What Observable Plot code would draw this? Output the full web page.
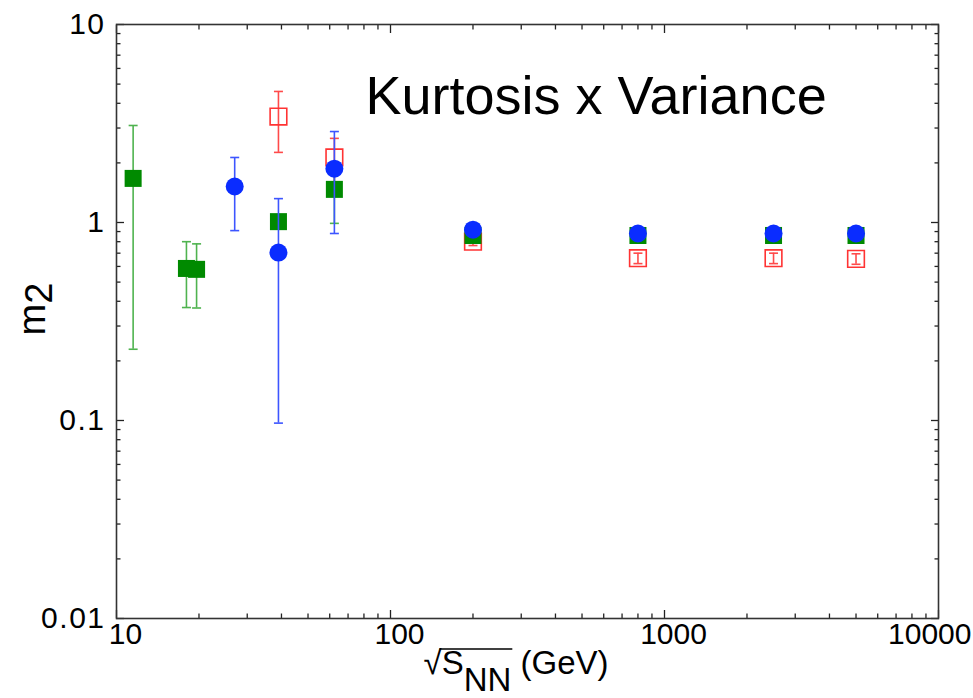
<!DOCTYPE html>
<html>
<head>
<meta charset="utf-8">
<script src="https://cdn.jsdelivr.net/npm/d3@7"></script>
<script src="https://cdn.jsdelivr.net/npm/@observablehq/plot@0.6"></script>
<style>
html, body { margin: 0; padding: 0; background: #fff; overflow: hidden; }
#chart { width: 973px; height: 698px; overflow: hidden; position: relative; }
#chart svg g[aria-label="y-axis tick label"] text { letter-spacing: 1.5px; }
</style>
</head>
<body>
<div id="chart"></div>
<script>
// ---- axis ticks ----
const xTicks = [10, 100, 1000, 10000];
const xTickLabels = ["10", "100", "1000", "10000"];
const yTicks = [0.01, 0.1, 1, 10];
const yTickLabels = ["0.01", "0.1", "1", "10"];
const minorMultipliers = [2, 3, 4, 5, 6, 7, 8, 9];

// ---- series: green filled squares ----
const greenX  = [11.5, 18.0, 19.6, 39, 62.4, 200, 800, 2500, 5000];
const greenY  = [1.67, 0.586, 0.58, 1.01, 1.47, 0.86, 0.86, 0.86, 0.86];
const greenLo = [0.229, 0.372, 0.37, null, 0.99, null, null, null, null];
const greenHi = [3.09, 0.80, 0.78, null, 1.95, null, null, null, null];

// ---- series: blue filled circles ----
const blueX  = [27, 39, 62.4, 200, 800, 2500, 5000];
const blueY  = [1.52, 0.705, 1.87, 0.92, 0.88, 0.88, 0.88];
const blueLo = [0.91, 0.097, 0.88, null, null, null, null];
const blueHi = [2.13, 1.32, 2.88, null, null, null, null];

// ---- series: red open squares ----
const redX  = [39, 62.4, 200, 800, 2500, 5000];
const redY  = [3.43, 2.13, 0.80, 0.66, 0.66, 0.655];
const redLo = [2.26, 1.60, 0.765, 0.62, 0.62, 0.615];
const redHi = [4.59, 2.66, 0.835, 0.70, 0.70, 0.695];

const title = "Kurtosis x Variance";

const greenCol = "#008a00", greenErr = "#4fb34f";
const blueCol = "#0a2cff", blueErr = "#3d55ff";
const redCol = "#ff3333", redErr = "#ff4a4a";
const FONT = "'Liberation Sans', Arial, Helvetica, sans-serif";

const rows = (xs, ys, lo, hi) => xs.map((x, i) => ({x, y: ys[i], lo: lo[i], hi: hi[i]}));
const green = rows(greenX, greenY, greenLo, greenHi);
const blue = rows(blueX, blueY, blueLo, blueHi);
const red = rows(redX, redY, redLo, redHi);

const yMinor = [], xMinor = [];
for (let i = 0; i < yTicks.length - 1; i++) for (const m of minorMultipliers) yMinor.push(+(yTicks[i] * m).toPrecision(4));
for (let i = 0; i < xTicks.length - 1; i++) for (const m of minorMultipliers) xMinor.push(+(xTicks[i] * m).toPrecision(4));

const cap = {draw(ctx) { ctx.moveTo(-4.5, 0); ctx.lineTo(4.5, 0); }};
function errorBars(data, color) {
  const e = data.filter(d => d.lo != null);
  return [
    Plot.ruleX(e, {x: "x", y1: "lo", y2: "hi", stroke: color, strokeWidth: 1.6}),
    Plot.dot(e, {x: "x", y: "lo", symbol: cap, r: 3, stroke: color, strokeWidth: 1.6}),
    Plot.dot(e, {x: "x", y: "hi", symbol: cap, r: 3, stroke: color, strokeWidth: 1.6})
  ];
}
const blank = () => "";
const tickStroke = "#222";
const xLabel = d => xTickLabels[xTicks.indexOf(d)];
const lastX = xTicks[xTicks.length - 1];

const chart = Plot.plot({
  width: 973,
  height: 698,
  marginLeft: 116,
  marginRight: 35,
  marginTop: 24,
  marginBottom: 80,
  style: {fontFamily: FONT, background: "#fff", color: "#000"},
  x: {type: "log", domain: [10, 10000], label: null},
  y: {type: "log", domain: [0.01, 10], label: null},
  marks: [
    // tick labels
    Plot.axisY(yTicks, {anchor: "left", tickSize: 0, tickPadding: 11, fontSize: 30, label: null,
      tickFormat: d => yTickLabels[yTicks.indexOf(d)]}),
    Plot.axisX(xTicks.slice(0, -1), {anchor: "bottom", tickSize: 0, tickPadding: 4, dx: 9, fontSize: 30, label: null,
      tickFormat: xLabel}),
    Plot.axisX([lastX], {anchor: "bottom", tickSize: 0, tickPadding: 4, dx: 33, textAnchor: "end", fontSize: 30, label: null,
      tickFormat: xLabel}),
    // inward ticks on all four sides
    Plot.axisY(yTicks, {anchor: "left", tickSize: 8, insetLeft: 8, tickFormat: blank, label: null, stroke: tickStroke, strokeWidth: 1.3}),
    Plot.axisY(yMinor, {anchor: "left", tickSize: 4.5, insetLeft: 4.5, tickFormat: blank, label: null, stroke: tickStroke, strokeWidth: 1.3}),
    Plot.axisY(yTicks, {anchor: "right", tickSize: 8, insetRight: 8, tickFormat: blank, label: null, stroke: tickStroke, strokeWidth: 1.3}),
    Plot.axisY(yMinor, {anchor: "right", tickSize: 4.5, insetRight: 4.5, tickFormat: blank, label: null, stroke: tickStroke, strokeWidth: 1.3}),
    Plot.axisX(xTicks, {anchor: "bottom", tickSize: 8, insetBottom: 8, tickFormat: blank, label: null, stroke: tickStroke, strokeWidth: 1.3}),
    Plot.axisX(xMinor, {anchor: "bottom", tickSize: 4.5, insetBottom: 4.5, tickFormat: blank, label: null, stroke: tickStroke, strokeWidth: 1.3}),
    Plot.axisX(xTicks, {anchor: "top", tickSize: 8, insetTop: 8, tickFormat: blank, label: null, stroke: tickStroke, strokeWidth: 1.3}),
    Plot.axisX(xMinor, {anchor: "top", tickSize: 4.5, insetTop: 4.5, tickFormat: blank, label: null, stroke: tickStroke, strokeWidth: 1.3}),
    Plot.frame({stroke: "#333", strokeWidth: 1.6}),
    // red open squares
    ...errorBars(red, redErr),
    Plot.dot(red, {x: "x", y: "y", symbol: "square", r: 9.4, stroke: redCol, strokeWidth: 1.6, fill: "none"}),
    // green filled squares
    ...errorBars(green, greenErr),
    Plot.dot(green, {x: "x", y: "y", symbol: "square", r: 9.6, fill: greenCol, stroke: "none"}),
    // blue filled circles
    ...errorBars(blue, blueErr),
    Plot.dot(blue, {x: "x", y: "y", symbol: "circle", r: 9, fill: blueCol, stroke: "none"}),
    // title inside the plot
    Plot.text([title], {frameAnchor: "top-left", dx: 249, dy: 51, textAnchor: "start", lineAnchor: "top",
      fontSize: 54, fill: "#000"})
  ]
});

document.getElementById("chart").appendChild(chart);

// axis titles with sub-scripts and overline
const svg = d3.select(chart);
const yl = svg.append("text")
  .attr("transform", "translate(45,309) rotate(-90)")
  .attr("text-anchor", "middle")
  .attr("font-family", FONT)
  .attr("font-size", 38)
  .attr("fill", "#000");
yl.append("tspan").text("m");
yl.append("tspan").attr("dy", 7).text("2");

const xl = svg.append("text")
  .attr("x", 516).attr("y", 674)
  .attr("text-anchor", "middle")
  .attr("font-family", FONT)
  .attr("font-size", 33)
  .attr("fill", "#000");
xl.append("tspan").text("\u221A");
xl.append("tspan").text("S");
xl.append("tspan").attr("dy", 17).text("NN");
xl.append("tspan").attr("dy", -17).text(" (GeV)");
try {
  const n = xl.node();
  const s = n.getExtentOfChar(1);
  const e = n.getExtentOfChar(3);
  const r = n.getExtentOfChar(0);
  svg.append("line")
    .attr("x1", r.x + r.width - 2).attr("x2", e.x + e.width + 1)
    .attr("y1", s.y + 5).attr("y2", s.y + 5)
    .attr("stroke", "#000").attr("stroke-width", 1.5);
} catch (err) {}
</script>
</body>
</html>
